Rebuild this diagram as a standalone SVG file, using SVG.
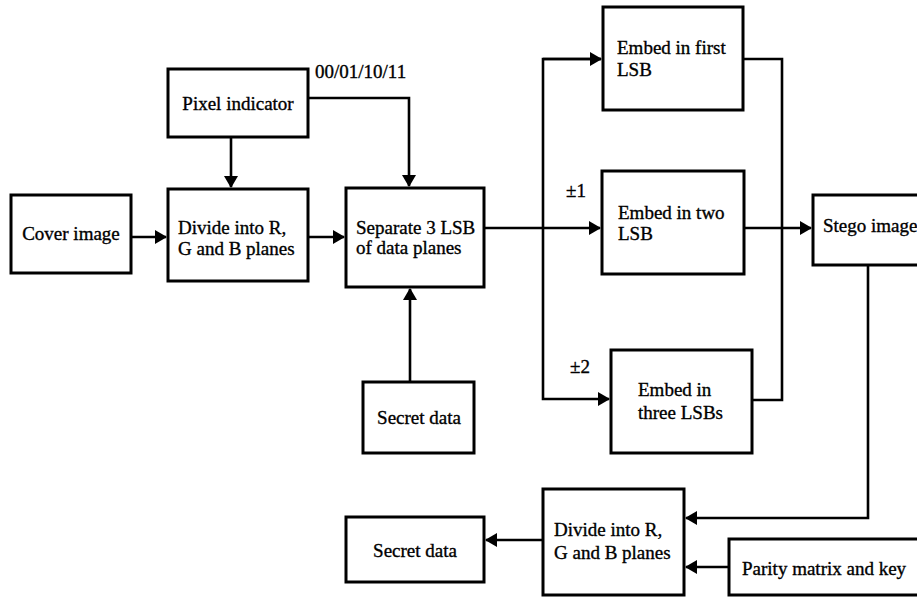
<svg xmlns="http://www.w3.org/2000/svg" width="917" height="597" viewBox="0 0 917 597">
<defs>
<style>
.box{fill:#fff;stroke:#000;stroke-width:3}
.t{font-family:"Liberation Serif","DejaVu Serif","Times New Roman",serif;font-size:19px;fill:#000;stroke:#000;stroke-width:0.35}
.c{text-anchor:middle}
.ln{fill:none;stroke:#000;stroke-width:2.6}
</style>
<marker id="ah" markerUnits="userSpaceOnUse" markerWidth="12" markerHeight="14" refX="11" refY="7" orient="auto">
<path d="M0,0 L12,7 L0,14 z" fill="#000"/>
</marker>
</defs>
<rect width="917" height="597" fill="#fff"/>
<g id="connectors">
<path class="ln" d="M231,137 V187" marker-end="url(#ah)"/>
<path class="ln" d="M308,98 H409 V186" marker-end="url(#ah)"/>
<path class="ln" d="M131,237 H166" marker-end="url(#ah)"/>
<path class="ln" d="M308,237 H344" marker-end="url(#ah)"/>
<path class="ln" d="M410,382 V289" marker-end="url(#ah)"/>
<path class="ln" d="M484,228 H600" marker-end="url(#ah)"/>
<path class="ln" d="M601,59 H543 V399 H609" marker-end="url(#ah)"/>
<path class="ln" d="M543,59 H601" marker-end="url(#ah)"/>
<path class="ln" d="M743,59 H782 V400 H752"/>
<path class="ln" d="M744,228 H811" marker-end="url(#ah)"/>
<path class="ln" d="M868,265 V518 H686" marker-end="url(#ah)"/>
<path class="ln" d="M729,567 H686" marker-end="url(#ah)"/>
<path class="ln" d="M543,540 H486" marker-end="url(#ah)"/>
<text class="t" x="315" y="78">00/01/10/11</text>
<text class="t" x="566" y="197">±1</text>
<text class="t" x="570" y="373">±2</text>
</g>
<g id="pixel-indicator">
<rect class="box" x="168" y="69" width="140" height="68"/>
<text class="t c" x="238" y="110">Pixel indicator</text>
</g>
<g id="cover-image">
<rect class="box" x="11" y="195" width="120" height="78"/>
<text class="t c" x="71" y="240">Cover image</text>
</g>
<g id="divide-top">
<rect class="box" x="168" y="189" width="140" height="92"/>
<text class="t" x="178" y="234">Divide into R,</text>
<text class="t" x="178" y="255">G and B planes</text>
</g>
<g id="separate">
<rect class="box" x="346" y="188" width="138" height="99"/>
<text class="t" x="356" y="234">Separate 3 LSB</text>
<text class="t" x="356" y="254">of data planes</text>
</g>
<g id="secret-data-top">
<rect class="box" x="363" y="382" width="111" height="71"/>
<text class="t c" x="419" y="424">Secret data</text>
</g>
<g id="embed-first">
<rect class="box" x="603" y="7" width="140" height="103"/>
<text class="t" x="617" y="54">Embed in first</text>
<text class="t" x="617" y="76">LSB</text>
</g>
<g id="embed-two">
<rect class="box" x="602" y="171" width="142" height="103"/>
<text class="t" x="618" y="219">Embed in two</text>
<text class="t" x="618" y="240">LSB</text>
</g>
<g id="embed-three">
<rect class="box" x="611" y="350" width="141" height="103"/>
<text class="t" x="638" y="396">Embed in</text>
<text class="t" x="638" y="419">three LSBs</text>
</g>
<g id="stego-image">
<rect class="box" x="813" y="195" width="115" height="70"/>
<text class="t" x="823" y="232">Stego image</text>
</g>
<g id="divide-bottom">
<rect class="box" x="543" y="489" width="141" height="106"/>
<text class="t" x="554" y="536">Divide into R,</text>
<text class="t" x="554" y="559">G and B planes</text>
</g>
<g id="parity">
<rect class="box" x="729" y="539" width="200" height="56"/>
<text class="t" x="742" y="575">Parity matrix and key</text>
</g>
<g id="secret-data-bottom">
<rect class="box" x="346" y="517" width="138" height="65"/>
<text class="t c" x="415" y="557">Secret data</text>
</g>
</svg>
